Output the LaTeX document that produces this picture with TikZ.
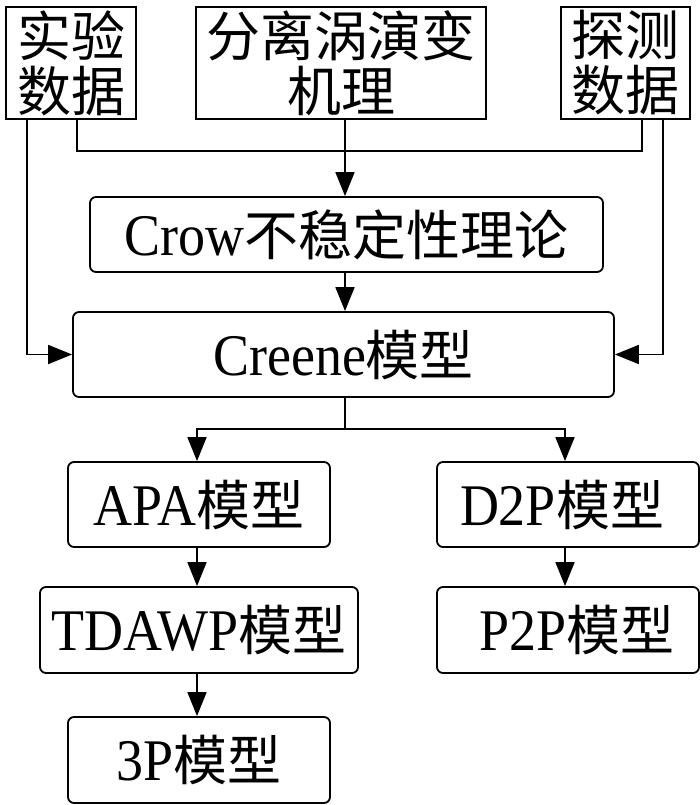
\documentclass[tikz,border=0pt]{standalone}
\usepackage{fontspec}
\setmainfont{Liberation Serif}[FakeStretch=0.915]
\newfontfamily\cjk{Noto Sans CJK SC}[Scale=0.915]
\usetikzlibrary{arrows.meta}
\tikzset{
  box/.style={draw, line width=1.8pt, inner sep=0pt, align=center,
    font=\fontsize{59}{55}\selectfont},
  rbox/.style={box, rounded corners=6pt},
  conn/.style={line width=1.8pt},
  arr/.style={conn, -{Triangle[length=24pt,width=19pt]}}
}
\begin{document}
\begin{tikzpicture}[x=1pt,y=-1pt]
\useasboundingbox (0,0) rectangle (700,805);
% top boxes
\node[box, minimum width=130pt, minimum height=112pt] (sy) at (71,63) {{\cjk 实验}\\{\cjk 数据}};
\node[box, minimum width=290pt, minimum height=112pt] (fl) at (341,63) {{\cjk 分离涡演变}\\{\cjk 机理}};
\node[box, minimum width=129pt, minimum height=112pt] (tc) at (625.5,63) {{\cjk 探测}\\{\cjk 数据}};
% middle
\node[rbox, minimum width=513pt, minimum height=75pt] (crow) at (346.5,234.5) {Crow{\cjk 不稳定性理论}};
\node[rbox, minimum width=541pt, minimum height=85pt] (creene) at (343.5,354.5) {Creene{\cjk 模型}};
% branches
\node[rbox, minimum width=262pt, minimum height=85pt] (apa) at (199,504.5) {APA{\cjk 模型}};
\node[rbox, minimum width=262pt, minimum height=85pt] (d2p) at (568,504.5) {\hspace{-12pt}D2P{\cjk 模型}};
\node[rbox, minimum width=318pt, minimum height=86pt] (tdawp) at (199,630) {TDAWP{\cjk 模型}};
\node[rbox, minimum width=262pt, minimum height=86pt] (p2p) at (568,630) {\hspace{18pt}P2P{\cjk 模型}};
\node[rbox, minimum width=262pt, minimum height=86pt] (tp) at (199,760) {3P{\cjk 模型}};
% junction coordinates
\coordinate (j) at (345,151);
\coordinate (k) at (345,429);
% connectors
\draw[conn] (sy.south -| 77,0) |- (j) -| (tc.south -| 642,0);
\draw[arr] (fl.south -| j) -- (crow.north -| j);
\draw[arr] (crow.south -| j) -- (creene.north -| j);
\draw[arr] (sy.south -| 27,0) |- (creene.west);
\draw[arr] (tc.south -| 663,0) |- (creene.east);
\draw[conn] (creene.south -| k) -- (k);
\draw[arr] (k) -| (apa.north -| 197,0);
\draw[arr] (k) -| (d2p.north -| 565,0);
\draw[arr] (apa.south -| 197,0) -- (tdawp.north -| 197,0);
\draw[arr] (d2p.south -| 565,0) -- (p2p.north -| 565,0);
\draw[arr] (tdawp.south -| 197,0) -- (tp.north -| 197,0);
\end{tikzpicture}
\end{document}
